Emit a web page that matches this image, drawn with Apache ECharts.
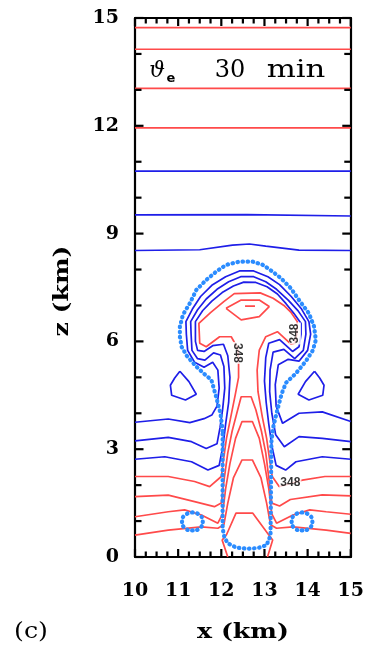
<!DOCTYPE html>
<html>
<head>
<meta charset="utf-8">
<script src="https://cdn.jsdelivr.net/npm/echarts@6/dist/echarts.min.js"></script>
<style>
  html, body { margin: 0; padding: 0; background: #fff; }
  #chart { width: 367px; height: 653px; }
</style>
</head>
<body>
<div id="chart"></div>
<script>
// Axis ranges and labelled ticks (km)
const xTicks = [10, 11, 12, 13, 14, 15];
const zTicks = [0, 3, 6, 9, 12, 15];
const xMinorPerMajor = 4;   // tick marks every 0.25 km along x
const zMinorPerMajor = 3;   // tick marks every 1 km along z

// Contour level written on the plume
const labelLevel = 348;
// Places where the level is written: [x, z, rotation]
const labelSpots = [[12.37, 5.68, -90], [13.71, 6.22, 90], [13.6, 2.08, 0]];

// Flat upper-level theta-e contours [x, z]
const redUpper1 = [[10, 14.73], [15, 14.73]];
const redUpper2 = [[10, 14.13], [15, 14.13]];
const redUpper3 = [[10, 13.04], [15, 13.04]];
const redUpper4 = [[10, 11.94], [15, 11.94]];
const blueUpper1 = [[10, 10.74], [15, 10.74]];
const blueUpper2 = [[10, 9.52], [12.6, 9.53], [15, 9.49]];
const blueUpper3 = [[10, 8.53], [11.5, 8.55], [12.26, 8.68], [12.65, 8.71], [13.03, 8.65], [13.8, 8.54], [15, 8.53]];

// Low-theta-e contours wrapping the cloud head
const blueA = [[10, 3.75], [10.77, 3.84], [11.27, 3.74], [11.6, 3.85], [11.78, 3.95], [11.9, 4.2], [11.95, 4.7],
  [11.92, 5.2], [11.8, 5.42], [11.6, 5.28], [11.38, 5.42], [11.22, 5.75], [11.19, 6.2], [11.18, 6.55],
  [11.33, 6.9], [11.52, 7.25], [11.78, 7.56], [12.1, 7.8], [12.42, 7.96], [12.75, 7.96], [13.08, 7.8],
  [13.35, 7.58], [13.62, 7.25], [13.86, 6.9], [14.03, 6.55], [14.07, 6.2], [14.0, 5.75], [13.8, 5.45],
  [13.55, 5.5], [13.32, 5.35], [13.25, 4.8], [13.27, 4.2], [13.42, 3.72], [13.8, 4.0], [14.34, 4.04], [15, 3.77]];
const blueB = [[10, 3.23], [10.77, 3.33], [11.31, 3.21], [11.65, 3.02], [11.9, 3.15], [11.97, 3.6], [12.03, 4.1],
  [12.08, 4.7], [12.06, 5.3], [11.98, 5.62], [11.82, 5.68], [11.62, 5.48], [11.45, 5.52], [11.32, 5.75],
  [11.3, 6.2], [11.29, 6.55], [11.45, 6.88], [11.65, 7.18], [11.9, 7.45], [12.17, 7.66], [12.45, 7.8],
  [12.75, 7.8], [13.03, 7.66], [13.28, 7.45], [13.55, 7.15], [13.78, 6.85], [13.95, 6.55], [13.96, 6.2],
  [13.9, 5.75], [13.7, 5.52], [13.45, 5.78], [13.2, 5.7], [13.13, 5.2], [13.12, 4.6], [13.17, 4.0],
  [13.26, 3.4], [13.46, 3.07], [13.8, 3.35], [14.34, 3.3], [15, 3.21]];
const blueC = [[10, 2.72], [10.69, 2.79], [11.31, 2.65], [11.69, 2.42], [11.95, 2.55], [12.04, 3.1], [12.1, 3.7],
  [12.17, 4.3], [12.2, 5.0], [12.15, 5.6], [12.05, 5.92], [11.8, 5.88], [11.6, 5.72], [11.45, 5.75],
  [11.4, 6.0], [11.4, 6.25], [11.4, 6.55], [11.57, 6.86], [11.78, 7.12], [12.02, 7.36], [12.28, 7.54],
  [12.52, 7.65], [12.8, 7.64], [13.06, 7.52], [13.3, 7.32], [13.5, 7.05], [13.68, 6.78], [13.85, 6.5],
  [13.85, 6.2], [13.8, 5.85], [13.65, 5.72], [13.35, 6.05], [13.1, 5.95], [13.03, 5.55], [13.0, 4.9],
  [13.04, 4.3], [13.1, 3.7], [13.17, 3.1], [13.27, 2.55], [13.49, 2.42], [13.73, 2.65], [14.34, 2.79], [15, 2.72]];
const blueLoopLeft = [[11.04, 5.17], [11.25, 4.88], [11.42, 4.53], [11.17, 4.37], [10.85, 4.5], [10.82, 4.78], [10.92, 4.98], [11.04, 5.17]];
const blueLoopRight = [[14.16, 5.17], [13.95, 4.88], [13.78, 4.53], [14.03, 4.37], [14.35, 4.5], [14.38, 4.78], [14.28, 4.98], [14.16, 5.17]];

// High-theta-e contours rising in the updraft
const red348 = [[10, 2.24], [10.77, 2.24], [11.38, 2.1], [11.73, 1.96], [12.0, 2.24], [12.05, 2.7], [12.12, 3.3],
  [12.22, 3.9], [12.32, 4.5], [12.4, 5.0], [12.4, 5.5], [12.38, 5.81], [12.23, 6.13], [11.96, 6.13],
  [11.65, 5.85], [11.5, 5.95], [11.48, 6.5], [11.75, 6.8], [12.05, 7.1], [12.3, 7.33], [12.9, 7.35],
  [13.2, 7.2], [13.45, 7.0], [13.62, 6.8], [13.76, 6.55], [13.75, 6.2], [13.7, 5.95], [13.62, 5.92],
  [13.3, 6.27], [13.03, 6.13], [12.88, 5.76], [12.83, 5.2], [12.85, 4.6], [12.95, 3.9], [13.05, 3.3],
  [13.12, 2.7], [13.18, 2.24], [13.34, 1.96], [13.88, 2.14], [14.4, 2.24], [15, 2.24]];
const redHead = [[12.11, 6.92], [12.46, 7.15], [12.88, 7.15], [13.11, 6.97], [12.88, 6.69], [12.46, 6.6], [12.11, 6.92]];
const redCore = [[12.55, 6.98], [12.78, 6.98]];
const redStem1 = [[10, 1.68], [10.77, 1.72], [11.38, 1.54], [11.84, 1.4], [12.0, 1.5], [12.07, 2.2], [12.15, 2.9],
  [12.25, 3.5], [12.38, 4.1], [12.46, 4.46], [12.69, 4.46], [12.8, 4.1], [12.93, 3.5], [13.03, 2.9],
  [13.1, 2.2], [13.17, 1.5], [13.35, 1.42], [13.6, 1.6], [14.34, 1.73], [15, 1.7]];
const redStem2 = [[10, 1.12], [10.77, 1.26], [11.15, 1.31], [11.54, 1.17], [11.92, 0.94], [12.03, 1.2], [12.1, 1.9],
  [12.2, 2.6], [12.33, 3.3], [12.48, 3.77], [12.72, 3.77], [12.88, 3.3], [13.0, 2.6], [13.1, 1.9],
  [13.17, 1.2], [13.28, 0.94], [13.66, 1.17], [14.05, 1.31], [14.43, 1.26], [15, 1.19]];
const redStem3 = [[10, 0.61], [10.77, 0.75], [11.54, 0.84], [11.92, 0.8], [12.06, 0.9], [12.15, 1.5], [12.28, 2.2],
  [12.48, 2.7], [12.72, 2.7], [12.92, 2.2], [13.05, 1.5], [13.14, 0.9], [13.28, 0.8], [13.66, 0.84],
  [14.43, 0.75], [15, 0.66]];
const redBase = [[12.15, 0], [12.02, 0.47], [12.12, 0.62], [12.34, 1.22], [12.73, 1.22], [13.11, 0.6], [13.19, 0.47], [13.07, 0]];

// Cloud outline (dotted)
const cloudEdge = [[12.03, 3.5], [11.98, 4.0], [11.88, 4.46], [11.77, 4.93], [11.6, 5.1], [11.42, 5.3], [11.2, 5.6],
  [11.08, 5.85], [11.04, 6.13], [11.04, 6.41], [11.11, 6.74], [11.27, 7.06], [11.42, 7.43], [11.65, 7.71],
  [11.88, 7.94], [12.11, 8.13], [12.42, 8.22], [12.73, 8.22], [12.96, 8.13], [13.19, 7.94], [13.38, 7.76],
  [13.61, 7.48], [13.8, 7.15], [14.03, 6.78], [14.15, 6.41], [14.19, 6.04], [14.12, 5.75], [13.96, 5.45],
  [13.72, 5.1], [13.5, 4.85], [13.4, 4.55], [13.3, 4.1], [13.2, 3.6], [13.16, 3.2], [13.15, 1.7], [13.14, 0.6],
  [13.05, 0.33], [12.85, 0.25], [12.6, 0.23], [12.35, 0.26], [12.15, 0.38], [12.07, 0.55], [12.03, 0.8], [12.03, 3.5]];
const cloudLeft = [[11.33, 1.24], [11.5, 1.17], [11.57, 0.99], [11.5, 0.8], [11.33, 0.74], [11.16, 0.8], [11.09, 0.99], [11.16, 1.17], [11.33, 1.24]];
const cloudRight = [[13.87, 1.24], [14.04, 1.17], [14.11, 0.99], [14.04, 0.8], [13.87, 0.74], [13.7, 0.8], [13.63, 0.99], [13.7, 1.17], [13.87, 1.24]];

const RED = '#ff4a4a';
const BLUE = '#1e1ee8';
const CLOUD = '#2b8cff';

const X0 = xTicks[0], X1 = xTicks[xTicks.length - 1];
const Z0 = zTicks[0], Z1 = zTicks[zTicks.length - 1];

function iso(data, color) {
  return {
    type: 'line', data: data, symbol: 'none', showSymbol: false, silent: true,
    lineStyle: { color: color, width: 1.7 }, z: 2
  };
}
function cloud(data, smooth) {
  return {
    type: 'line', data: data, symbol: 'none', showSymbol: false, silent: true, smooth: smooth,
    lineStyle: { color: CLOUD, width: 4.2, type: [0.5, 4.6], cap: 'round' }, z: 3
  };
}

// Tick positions between the labelled values; major ticks flagged with 1
function tickList(ticks, perMajor) {
  const out = [];
  for (let i = 0; i < ticks.length; i++) {
    out.push([ticks[i], 1]);
    if (i < ticks.length - 1) {
      const step = (ticks[i + 1] - ticks[i]) / perMajor;
      for (let k = 1; k < perMajor; k++) out.push([ticks[i] + k * step, 0]);
    }
  }
  return out;
}

const tickFont = { color: '#000', fontFamily: 'DejaVu Serif', fontWeight: 'bold', fontSize: 19 };

function xAxisDef(pos, labels) {
  return {
    type: 'value', position: pos, min: X0, max: X1, interval: xTicks[1] - xTicks[0],
    axisLine: { show: true, onZero: false, lineStyle: { color: '#000', width: 2.2 } },
    axisTick: { show: false }, minorTick: { show: false },
    splitLine: { show: false }, minorSplitLine: { show: false },
    axisLabel: Object.assign({ show: labels, margin: 25 }, tickFont)
  };
}
function yAxisDef(pos, labels) {
  return {
    type: 'value', position: pos, min: Z0, max: Z1, interval: zTicks[1] - zTicks[0],
    axisLine: { show: true, onZero: false, lineStyle: { color: '#000', width: 2.2 } },
    axisTick: { show: false }, minorTick: { show: false },
    splitLine: { show: false }, minorSplitLine: { show: false },
    axisLabel: Object.assign({ show: labels, margin: 16 }, tickFont)
  };
}

const texts = [
  { type: 'text', x: 157, y: 71, style: { text: 'ϑ', font: 'italic 22px "DejaVu Serif"', fill: '#000', align: 'center', verticalAlign: 'middle' } },
  { type: 'text', x: 171, y: 79, style: { text: 'e', font: 'bold 13px "DejaVu Sans"', fill: '#000', align: 'center', verticalAlign: 'middle' } },
  { type: 'text', x: 230, y: 71, style: { text: '30', font: '24px "DejaVu Serif"', fill: '#000', align: 'center', verticalAlign: 'middle' } },
  { type: 'text', x: 296, y: 71, scaleX: 1.28, style: { text: 'min', font: '24px "DejaVu Serif"', fill: '#000', align: 'center', verticalAlign: 'middle' } },
  { type: 'text', x: 243, y: 633, scaleX: 1.2, style: { text: 'x (km)', font: 'bold 21px "DejaVu Serif"', fill: '#000', align: 'center', verticalAlign: 'middle' } },
  { type: 'text', x: 63, y: 291, rotation: Math.PI / 2, scaleX: 1.2, style: { text: 'z (km)', font: 'bold 21px "DejaVu Serif"', fill: '#000', align: 'center', verticalAlign: 'middle' } },
  { type: 'text', x: 31, y: 632, scaleX: 1.15, style: { text: '(c)', font: '22px "DejaVu Serif"', fill: '#000', align: 'center', verticalAlign: 'middle' } }
];

const chart = echarts.init(document.getElementById('chart'));
chart.setOption({
  animation: false,
  backgroundColor: '#fff',
  grid: { left: 135, right: 15, top: 18, bottom: 96 },
  xAxis: [xAxisDef('bottom', true), xAxisDef('top', false)],
  yAxis: [yAxisDef('left', true), yAxisDef('right', false)],
  series: [
    iso(redUpper1, RED), iso(redUpper2, RED), iso(redUpper3, RED), iso(redUpper4, RED),
    iso(blueUpper1, BLUE), iso(blueUpper2, BLUE), iso(blueUpper3, BLUE),
    iso(blueA, BLUE), iso(blueB, BLUE), iso(blueC, BLUE),
    iso(blueLoopLeft, BLUE), iso(blueLoopRight, BLUE),
    iso(red348, RED), iso(redHead, RED), iso(redCore, RED),
    iso(redStem1, RED), iso(redStem2, RED), iso(redStem3, RED), iso(redBase, RED),
    cloud(cloudEdge, false), cloud(cloudLeft, true), cloud(cloudRight, true),
    {
      type: 'scatter', silent: true, symbolSize: 0, z: 5,
      data: labelSpots.map(s => ({ value: [s[0], s[1]], label: { rotate: s[2] } })),
      label: {
        show: true, position: 'inside', formatter: String(labelLevel),
        color: '#000', fontFamily: 'Liberation Sans', fontWeight: 'bold', fontSize: 12,
        backgroundColor: '#fff', padding: [0, 1]
      }
    }
  ]
});

// Inward tick marks on all four sides of the frame, placed through the axis scales
const tickMarks = [];
const tickStroke = { stroke: '#000', lineWidth: 2.2 };
const xb = chart.convertToPixel({ yAxisIndex: 0 }, Z0);
const xt = chart.convertToPixel({ yAxisIndex: 0 }, Z1);
const yl = chart.convertToPixel({ xAxisIndex: 0 }, X0);
const yr = chart.convertToPixel({ xAxisIndex: 0 }, X1);
tickList(xTicks, xMinorPerMajor).forEach(t => {
  const px = chart.convertToPixel({ xAxisIndex: 0 }, t[0]);
  const len = t[1] ? 8 : 5.5;
  tickMarks.push({ type: 'line', z: 100, silent: true, shape: { x1: px, y1: xb, x2: px, y2: xb - len }, style: tickStroke });
  tickMarks.push({ type: 'line', z: 100, silent: true, shape: { x1: px, y1: xt, x2: px, y2: xt + len }, style: tickStroke });
});
tickList(zTicks, zMinorPerMajor).forEach(t => {
  const py = chart.convertToPixel({ yAxisIndex: 0 }, t[0]);
  const len = t[1] ? 8.5 : 6.5;
  tickMarks.push({ type: 'line', z: 100, silent: true, shape: { x1: yl, y1: py, x2: yl + len, y2: py }, style: tickStroke });
  tickMarks.push({ type: 'line', z: 100, silent: true, shape: { x1: yr, y1: py, x2: yr - len, y2: py }, style: tickStroke });
});

chart.setOption({ graphic: texts.concat(tickMarks) });
</script>
</body>
</html>
